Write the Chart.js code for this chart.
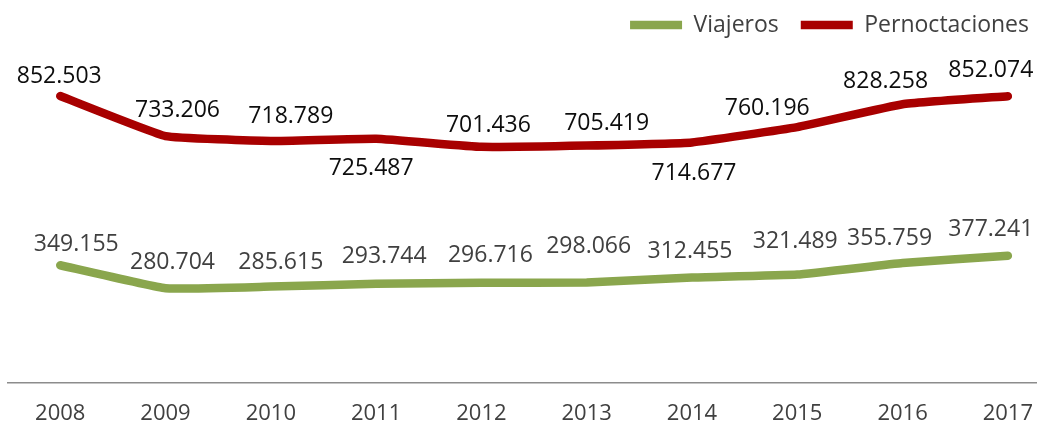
<!DOCTYPE html>
<html>
<head>
<meta charset="utf-8">
<script src="https://cdn.jsdelivr.net/npm/chart.js@4/dist/chart.umd.min.js"></script>
<style>
  html, body { margin: 0; padding: 0; background: #ffffff; }
  #wrap { width: 1051px; height: 428px; position: relative; }
</style>
</head>
<body>
<div id="wrap"><canvas id="c" width="1051" height="428"></canvas></div>
<script>
// ---- data ----
const categories = ['2008', '2009', '2010', '2011', '2012', '2013', '2014', '2015', '2016', '2017'];
const viajeros = [349155, 280704, 285615, 293744, 296716, 298066, 312455, 321489, 355759, 377241];
const pernoctaciones = [852503, 733206, 718789, 725487, 701436, 705419, 714677, 760196, 828258, 852074];
const seriesNames = ['Viajeros', 'Pernoctaciones'];

// ---- label placement (style, not data) ----
const labelOffsets = [
  [[16,-21],[7,-26],[10,-24],[8,-27],[9,-27],[2,-36],[-2,-26],[-2,-33],[-13,-25],[-17,-26]],
  [[-1,-20],[12,-26],[20,-25],[-5,30],[7,-21],[20,-22],[2,31],[-30,-19],[-17,-23],[-17,-26]]
];
const labelColors = ['#404040', '#0d0d0d'];
const FONT = "'Open Sans', 'Liberation Sans', sans-serif";

function fmt(v) {
  return String(v).replace(/\B(?=(\d{3})+(?!\d))/g, '.');
}

const dataLabelPlugin = {
  id: 'dataLabels',
  afterDatasetsDraw(chart) {
    const ctx = chart.ctx;
    ctx.save();
    ctx.font = '23px ' + FONT;
    ctx.textAlign = 'center';
    ctx.textBaseline = 'middle';
    chart.data.datasets.forEach((ds, di) => {
      const meta = chart.getDatasetMeta(di);
      meta.data.forEach((pt, i) => {
        const off = labelOffsets[di][i];
        ctx.fillStyle = labelColors[di];
        ctx.fillText(fmt(ds.data[i].y), pt.x + off[0], pt.y + off[1]);
      });
    });
    ctx.restore();
  }
};

const toPoints = arr => arr.map((v, i) => ({ x: i, y: v }));

new Chart(document.getElementById('c'), {
  type: 'line',
  data: {
    datasets: [
      {
        label: seriesNames[0],
        data: toPoints(viajeros),
        borderColor: '#8aa64d',
        backgroundColor: '#8aa64d',
        borderWidth: 8.5,
        borderCapStyle: 'round',
        borderJoinStyle: 'round',
        pointRadius: 0,
        tension: 0.1,
        fill: false
      },
      {
        label: seriesNames[1],
        data: toPoints(pernoctaciones),
        borderColor: '#a80000',
        backgroundColor: '#a80000',
        borderWidth: 8.5,
        borderCapStyle: 'round',
        borderJoinStyle: 'round',
        pointRadius: 0,
        tension: 0.1,
        fill: false
      }
    ]
  },
  options: {
    responsive: false,
    animation: false,
    layout: { padding: { left: 7.6, right: 0, top: -8.5, bottom: -17 } },
    plugins: {
      legend: {
        display: true,
        position: 'top',
        align: 'end',
        labels: {
          usePointStyle: true,
          pointStyle: 'line',
          pointStyleWidth: 52,
          boxHeight: 8,
          padding: 22,
          color: '#404040',
          font: { family: FONT, size: 23 }
        }
      },
      tooltip: { enabled: false }
    },
    scales: {
      x: {
        type: 'linear',
        min: -0.5,
        max: 9.27,
        afterBuildTicks: (scale) => {
          scale.ticks = categories.map((c, i) => ({ value: i }));
        },
        ticks: {
          autoSkip: false,
          maxRotation: 0,
          padding: 18,
          color: '#404040',
          font: { family: FONT, size: 22 },
          callback: (v) => categories[v]
        },
        grid: { display: false, drawTicks: false },
        border: { display: true, color: '#8c8c8c', width: 1.5 }
      },
      y: {
        display: false,
        min: 0,
        max: 1000000
      }
    }
  },
  plugins: [dataLabelPlugin]
});
</script>
</body>
</html>
